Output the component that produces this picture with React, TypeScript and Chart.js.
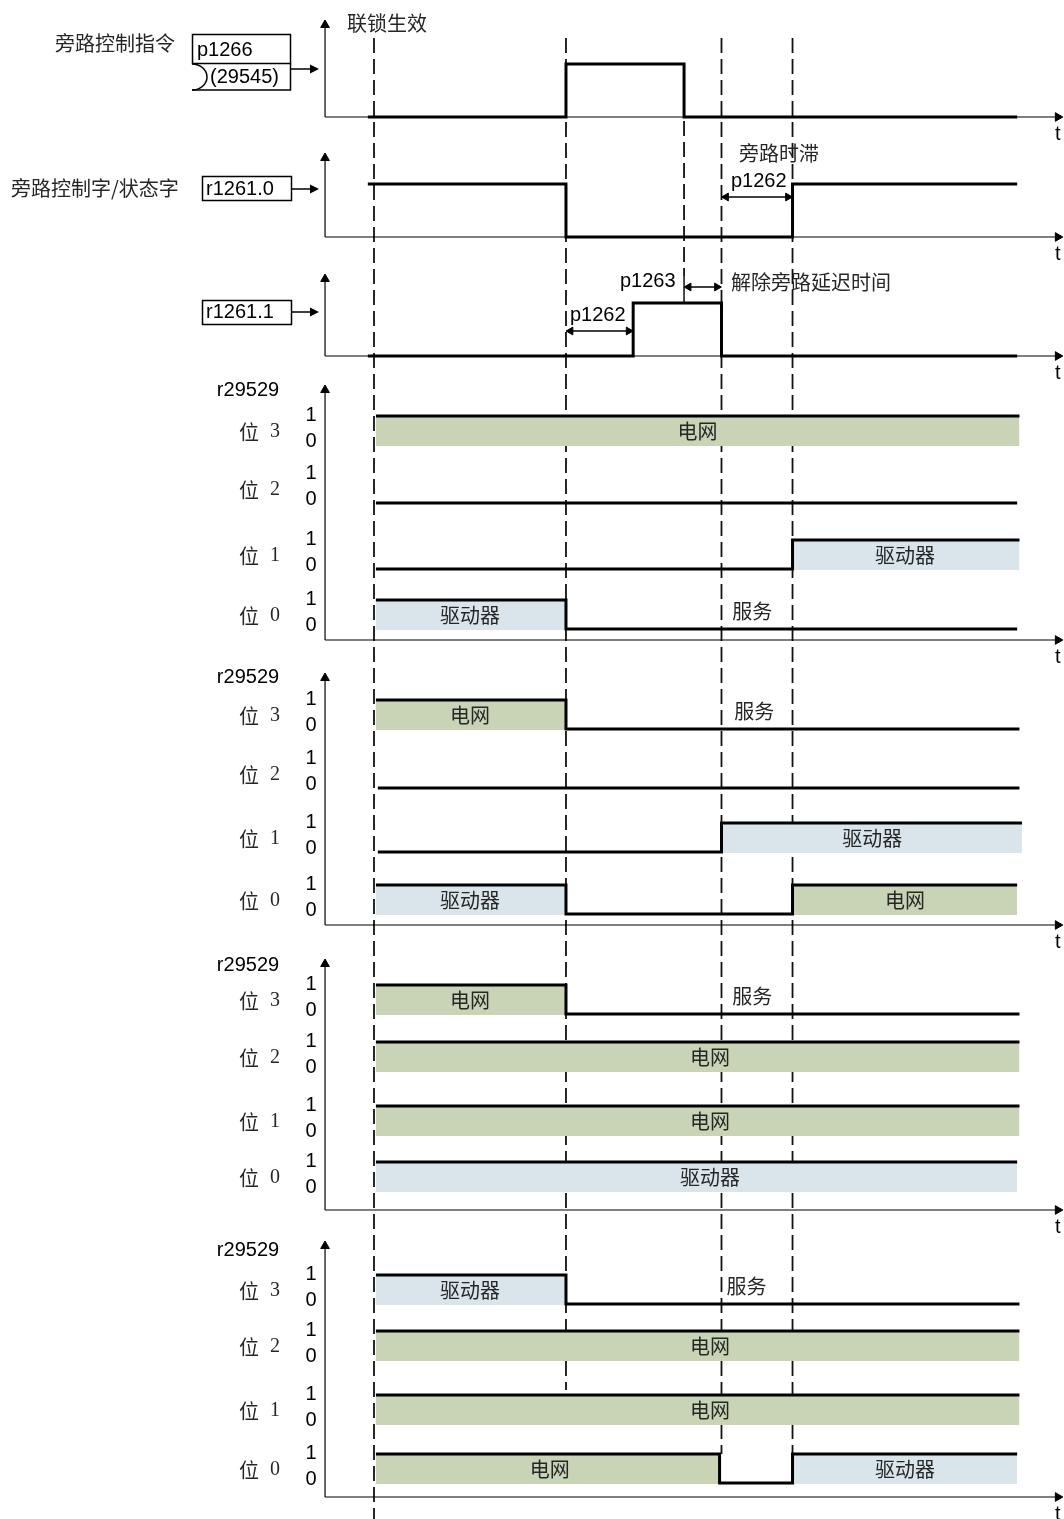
import React, { useEffect, useRef } from "react";
import { Chart, registerables } from "chart.js";

Chart.register(...registerables);

const W = 1064;
const H = 1519;

// ---------- event instants (time units) ----------
const T_LEAD = -0.32; // top signals begin
const T_INTERLOCK = 0; // 联锁生效
const T_BLK = 0.1; // status bits begin
const T_BYPASS_ON = 10; // 旁路控制指令 on
const T_R1_ON = 13.5; // r1261.1 on (after p1262)
const T_CMD_OFF = 16.15; // command off
const T_D_FALL = 18.0;
const T_RELEASE = 18.1; // after p1263
const T_DELAY_END = 21.8; // after p1262
const T_SIG_END = 33.5;
const T_FILL_END = 33.62;
const T_FILL_END2 = 33.75;
const T_AXIS = -2.55;
const T_ARROW = 35.62;
const X_MIN = -19.48;
const X_MAX = 35.94;

// ---------- top signals: [time, level] ----------
const CMD_P1266 = [[T_LEAD, 0], [T_BYPASS_ON, 1], [T_CMD_OFF, 0], [T_SIG_END, 0]];
const STAT_R1261_0 = [[T_LEAD, 1], [T_BYPASS_ON, 0], [T_DELAY_END, 1], [T_SIG_END, 1]];
const STAT_R1261_1 = [[T_LEAD, 0], [T_R1_ON, 1], [T_RELEASE, 0], [T_SIG_END, 0]];
const TOP_WAVES = [CMD_P1266, STAT_R1261_0, STAT_R1261_1];

// ---------- r29529 blocks: bit3..bit0, segments [start, end, level, fill, label, labelT] ----------
const BLOCK_1 = [
  [[T_BLK, T_FILL_END, 1, "G", "电网", 16.85]],
  [[T_BLK, T_SIG_END, 0]],
  [[T_BLK, T_DELAY_END, 0], [T_DELAY_END, T_FILL_END, 1, "B", "驱动器", 27.66]],
  [[T_BLK, T_BYPASS_ON, 1, "B", "驱动器", 5], [T_BYPASS_ON, T_SIG_END, 0, "", "服务", 19.7]],
];
const BLOCK_2 = [
  [[T_BLK, T_BYPASS_ON, 1, "G", "电网", 5], [T_BYPASS_ON, T_FILL_END, 0, "", "服务", 19.8]],
  [[0.2, T_FILL_END, 0]],
  [[0.2, T_RELEASE, 0], [T_RELEASE, T_FILL_END2, 1, "B", "驱动器", 25.95]],
  [[T_BLK, T_BYPASS_ON, 1, "B", "驱动器", 5], [T_BYPASS_ON, T_DELAY_END, 0], [T_DELAY_END, T_SIG_END, 1, "G", "电网", 27.66]],
];
const BLOCK_3 = [
  [[T_BLK, T_BYPASS_ON, 1, "G", "电网", 5], [T_BYPASS_ON, T_FILL_END, 0, "", "服务", 19.7]],
  [[T_BLK, T_FILL_END, 1, "G", "电网", 17.5]],
  [[T_BLK, T_FILL_END, 1, "G", "电网", 17.5]],
  [[T_BLK, T_SIG_END, 1, "B", "驱动器", 17.5]],
];
const BLOCK_4 = [
  [[T_BLK, T_BYPASS_ON, 1, "B", "驱动器", 5], [T_BYPASS_ON, T_FILL_END, 0, "", "服务", 19.4]],
  [[T_BLK, T_FILL_END, 1, "G", "电网", 17.5]],
  [[T_BLK, T_FILL_END, 1, "G", "电网", 17.5]],
  [[T_BLK, T_D_FALL, 1, "G", "电网", 9.15], [T_D_FALL, T_DELAY_END, 0], [T_DELAY_END, T_SIG_END, 1, "B", "驱动器", 27.66]],
];
const BLOCKS = [BLOCK_1, BLOCK_2, BLOCK_3, BLOCK_4];
const BIT_NAMES = ["3", "2", "1", "0"];

// ---------- timing markers [time, yTop, yBottom] ----------
const MARKERS = [
  [T_INTERLOCK, 38, 1519],
  [T_BYPASS_ON, 38, 1390],
  [T_CMD_OFF, 121, 276],
  [T_RELEASE, 38, 1454],
  [T_DELAY_END, 38, 1454],
];
const TICK_SOLID = [T_CMD_OFF, 276, 304];
// delay arrows [from, to, y]
const DELAYS = [
  [T_RELEASE, T_DELAY_END, 197],
  [T_BYPASS_ON, T_R1_ON, 331],
  [T_CMD_OFF, T_RELEASE, 287],
];

// ---------- layout ----------
const TOP_LOW_Y = [117, 237, 356];
const TOP_SWING = 53;
const TOP_AXIS_TOP = [25, 158, 279];
const BLOCK_HIGH_Y = [
  [416, 474, 540, 600],
  [700, 759, 823, 885],
  [985, 1042, 1106, 1162],
  [1275, 1331, 1395, 1454],
];
const BIT_SWING = 29;
const BLOCK_AXIS = [
  [390, 640],
  [678, 925],
  [964, 1210],
  [1246, 1497],
];
const BLOCK_TITLE_Y = [390, 677, 965, 1250];

const GRID_FILL = "#c9d4b6";
const DRIVE_FILL = "#d9e5eb";
const CJK = "20px 'Noto Sans CJK SC', sans-serif";
const LAT = "20px 'Liberation Sans', Arial, sans-serif";
const SER = "20px 'Liberation Serif', 'DejaVu Serif', serif";
const TXT = "#262626";

function buildDatasets() {
  const ds: any[] = [];
  // markers
  MARKERS.forEach(([t, y0, y1]) =>
    ds.push({
      data: [{ x: t, y: y0 }, { x: t, y: y1 }],
      borderColor: "#111",
      borderWidth: 1.8,
      borderDash: [15, 6],
      pointRadius: 0,
      fill: false,
      order: 3,
    })
  );
  ds.push({
    data: [{ x: TICK_SOLID[0], y: TICK_SOLID[1] }, { x: TICK_SOLID[0], y: TICK_SOLID[2] }],
    borderColor: "#111",
    borderWidth: 1.5,
    pointRadius: 0,
    fill: false,
    order: 3,
  });
  const axis = (pts: any[], rot: number) =>
    ds.push({
      data: pts,
      borderColor: "#000",
      borderWidth: 1.2,
      pointStyle: "triangle",
      pointRadius: [0, 5],
      pointRotation: [0, rot],
      pointBackgroundColor: "#000",
      pointBorderColor: "#000",
      pointBorderWidth: 1,
      fill: false,
      order: 1,
    });
  // top rows
  TOP_WAVES.forEach((w, i) => {
    const low = TOP_LOW_Y[i];
    axis([{ x: T_AXIS, y: low }, { x: T_AXIS, y: TOP_AXIS_TOP[i] }], 0);
    axis([{ x: T_AXIS, y: low }, { x: T_ARROW, y: low }], 90);
    ds.push({
      data: w.map(([t, l]) => ({ x: t, y: low - l * TOP_SWING })),
      borderColor: "#000",
      borderWidth: 3,
      stepped: "before",
      borderJoinStyle: "miter",
      pointRadius: 0,
      fill: false,
      order: 1,
    });
  });
  // delay arrows
  DELAYS.forEach(([a, b, y]) =>
    ds.push({
      data: [{ x: a + 0.24, y }, { x: b - 0.24, y }],
      borderColor: "#000",
      borderWidth: 1.5,
      pointStyle: "triangle",
      pointRadius: 4.5,
      pointRotation: [270, 90],
      pointBackgroundColor: "#000",
      pointBorderColor: "#000",
      pointBorderWidth: 1,
      fill: false,
      order: 1,
    })
  );
  // blocks
  BLOCKS.forEach((blk, b) => {
    const [top, base] = BLOCK_AXIS[b];
    axis([{ x: T_AXIS, y: base }, { x: T_AXIS, y: top }], 0);
    axis([{ x: T_AXIS, y: base }, { x: T_ARROW, y: base }], 90);
    blk.forEach((segs: any[], k: number) => {
      const hy = BLOCK_HIGH_Y[b][k];
      const lvY = (l: number) => hy + (1 - l) * BIT_SWING;
      const pts = segs.map((s) => ({ x: s[0], y: lvY(s[2]) }));
      const last = segs[segs.length - 1];
      pts.push({ x: last[1], y: lvY(last[2]) });
      ds.push({
        data: pts,
        borderColor: "#000",
        borderWidth: 3,
        stepped: "before",
        borderJoinStyle: "miter",
        pointRadius: 0,
        fill: false,
        order: 1,
      });
      segs.forEach((s) => {
        if (s[3]) {
          ds.push({
            data: [{ x: s[0], y: hy }, { x: s[1], y: hy }],
            borderColor: "rgba(0,0,0,0)",
            borderWidth: 1,
            pointRadius: 0,
            backgroundColor: s[3] === "G" ? GRID_FILL : DRIVE_FILL,
            fill: { value: hy + BIT_SWING + 1 },
            order: 2,
          });
        }
      });
    });
  });
  return ds;
}

const labelPlugin = {
  id: "diagramLabels",
  afterDatasetsDraw(chart: any) {
    const ctx = chart.ctx as CanvasRenderingContext2D;
    const xs = chart.scales.x;
    const ys = chart.scales.y;
    ctx.save();
    ctx.textBaseline = "middle";
    const text = (s: string, x: number, y: number, font: string, align: CanvasTextAlign = "left", color = "#000") => {
      ctx.font = font;
      ctx.textAlign = align;
      ctx.fillStyle = color;
      ctx.fillText(s, x, y);
    };
    // left captions
    text("旁路控制指令", 55, 43, CJK, "left", TXT);
    text("旁路控制字/状态字", 11, 188, CJK, "left", TXT);
    text("联锁生效", 347, 23, CJK, "left", TXT);
    text("旁路时滞", 739, 153, CJK, "left", TXT);
    text("解除旁路延迟时间", 731, 282, CJK, "left", TXT);
    text("p1262", 731, 181, LAT);
    text("p1262", 570, 315, LAT);
    text("p1263", 620, 281, LAT);

    // boxes
    ctx.strokeStyle = "#000";
    ctx.lineWidth = 1.5;
    ctx.strokeRect(192.5, 34.5, 98, 29);
    ctx.beginPath();
    ctx.moveTo(192, 90);
    ctx.lineTo(290.5, 90);
    ctx.lineTo(290.5, 63.5);
    ctx.stroke();
    ctx.beginPath();
    ctx.ellipse(192, 77, 15, 13, 0, -Math.PI / 2, Math.PI / 2);
    ctx.stroke();
    text("p1266", 197, 50, LAT);
    text("(29545)", 210, 77, LAT);
    ctx.strokeRect(202.5, 176.5, 89, 24);
    text("r1261.0", 206, 189, LAT);
    ctx.strokeRect(202.5, 300.5, 89, 24);
    text("r1261.1", 206, 312, LAT);
    const arrow = (x0: number, x1: number, y: number) => {
      ctx.lineWidth = 1.5;
      ctx.beginPath();
      ctx.moveTo(x0, y);
      ctx.lineTo(x1 - 7, y);
      ctx.stroke();
      ctx.beginPath();
      ctx.moveTo(x1, y);
      ctx.lineTo(x1 - 9, y - 4.5);
      ctx.lineTo(x1 - 9, y + 4.5);
      ctx.closePath();
      ctx.fillStyle = "#000";
      ctx.fill();
    };
    arrow(291, 319, 69);
    arrow(292, 319, 189);
    arrow(292, 319, 312);

    // t labels
    const tx = xs.getPixelForValue(T_ARROW);
    TOP_LOW_Y.forEach((y) => text("t", tx, ys.getPixelForValue(y) + 17, LAT, "center"));
    BLOCK_AXIS.forEach(([, base]) => text("t", tx, ys.getPixelForValue(base) + 17, LAT, "center"));

    // block labels
    BLOCKS.forEach((blk, b) => {
      text("r29529", 248, BLOCK_TITLE_Y[b], LAT, "center");
      blk.forEach((segs: any[], k: number) => {
        const hy = BLOCK_HIGH_Y[b][k];
        text("位", 249, hy + 16, CJK, "center", TXT);
        text(BIT_NAMES[k], 275, hy + 16, SER, "center", TXT);
        text("1", 311, hy - 1, LAT, "center");
        text("0", 311, hy + 25, LAT, "center");
        segs.forEach((s) => {
          if (s[4]) {
            const x = xs.getPixelForValue(s[5]);
            const y = ys.getPixelForValue(hy + (s[3] ? 15 : 11));
            text(s[4], x, y, CJK, "center", TXT);
          }
        });
      });
    });
    ctx.restore();
  },
};

export default function App() {
  const ref = useRef<HTMLCanvasElement | null>(null);
  useEffect(() => {
    if (!ref.current) return;
    const chart = new Chart(ref.current, {
      type: "line",
      data: { datasets: buildDatasets() },
      options: {
        responsive: false,
        animation: false,
        devicePixelRatio: 1,
        events: [],
        layout: { padding: 0, autoPadding: false },
        plugins: {
          legend: { display: false },
          tooltip: { enabled: false },
          title: { display: false },
        },
        scales: {
          x: { type: "linear", min: X_MIN, max: X_MAX, display: false },
          y: { type: "linear", min: 0, max: H, reverse: true, display: false },
        },
      },
      plugins: [labelPlugin],
    } as any);
    return () => chart.destroy();
  }, []);
  return (
    <div style={{ position: "absolute", left: 0, top: 0, width: W, height: H, background: "#fff" }}>
      <canvas ref={ref} width={W} height={H} style={{ display: "block" }} />
    </div>
  );
}
